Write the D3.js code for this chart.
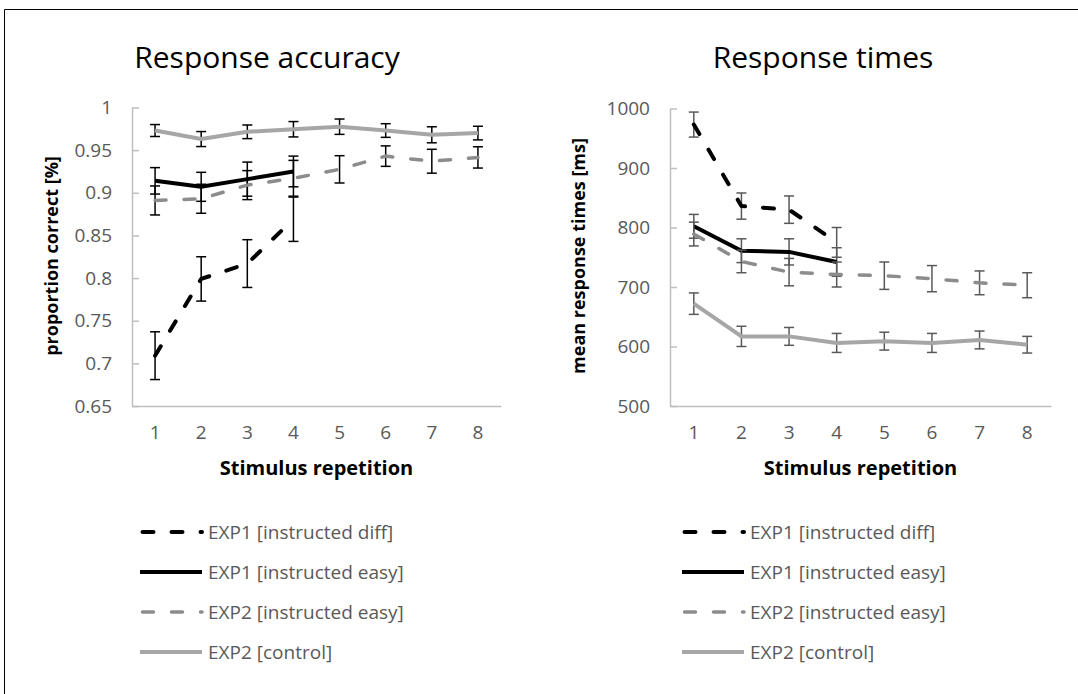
<!DOCTYPE html>
<html lang="en">
<head>
    <meta charset="UTF-8">
    <title>Response accuracy and response times</title>
    <script src="https://d3js.org/d3.v7.min.js"></script>
    <style>
        body {
            margin: 0;
            background: #fff;
            font-family: "Open Sans", sans-serif;
        }
        svg {
            display: block;
        }
    </style>
</head>
<body>
    <script>
        // Data
        const reps = ["1", "2", "3", "4", "5", "6", "7", "8"];
        const seriesNames = ["EXP1 [instructed diff]", "EXP1 [instructed easy]", "EXP2 [instructed easy]", "EXP2 [control]"];

        const accTicks = [0.65, 0.7, 0.75, 0.8, 0.85, 0.9, 0.95, 1];
        const accDiff = [0.709, 0.799, 0.817, 0.869];
        const accDiffErr = [0.028, 0.026, 0.028, 0.026];
        const accEasy1 = [0.914, 0.907, 0.916, 0.925];
        const accEasy1Err = [0.0155, 0.017, 0.02, 0.018];
        const accEasy2 = [0.891, 0.893, 0.909, 0.917, 0.9275, 0.943, 0.937, 0.9415];
        const accEasy2Err = [0.017, 0.017, 0.017, 0.021, 0.016, 0.012, 0.014, 0.0125];
        const accControl = [0.973, 0.963, 0.9715, 0.9745, 0.9775, 0.973, 0.968, 0.970];
        const accControlErr = [0.007, 0.0088, 0.008, 0.009, 0.009, 0.008, 0.0094, 0.008];

        const rtTicks = [500, 600, 700, 800, 900, 1000];
        const rtDiff = [973, 836, 830, 775];
        const rtDiffErr = [21, 22, 23, 25];
        const rtEasy1 = [802, 761, 759, 742];
        const rtEasy1Err = [20, 20, 22, 24];
        const rtEasy2 = [789, 743, 725, 721, 719, 714, 707, 703];
        const rtEasy2Err = [20, 19, 23, 21, 23, 22, 20, 21];
        const rtControl = [672, 617, 617, 606, 609, 606, 611, 603];
        const rtControlErr = [18, 17, 15, 16, 15, 16, 15, 14];

        // Line styles per series (same order as seriesNames)
        const styles = [
            { color: "#000000", width: 4, dash: "11,18" },
            { color: "#000000", width: 4, dash: null },
            { color: "#8c8c8c", width: 3.5, dash: "11,18" },
            { color: "#a6a6a6", width: 4, dash: null }
        ];

        const width = 1078, height = 694;

        const svg = d3.select("body")
            .append("svg")
            .attr("width", width)
            .attr("height", height);

        // outer frame (only top and left edges visible)
        svg.append("line").attr("x1", 4.5).attr("x2", width).attr("y1", 9.5).attr("y2", 9.5)
            .attr("stroke", "#000").attr("stroke-width", 1);
        svg.append("line").attr("x1", 4.5).attr("x2", 4.5).attr("y1", 9.5).attr("y2", height)
            .attr("stroke", "#000").attr("stroke-width", 1);

        function drawPanel(opt) {
            const g = svg.append("g");

            const x = d3.scaleBand().domain(reps).range([opt.left, opt.right]);
            const y = d3.scaleLinear().domain(opt.domain).range([406, opt.top]);
            const cx = d => x(d) + x.bandwidth() / 2;

            // axes
            const yAxis = g.append("g")
                .attr("transform", `translate(${opt.left},0)`)
                .call(d3.axisLeft(y).tickValues(opt.ticks).tickFormat(opt.format)
                    .tickSizeInner(-7).tickSizeOuter(0).tickPadding(20));
            const xAxis = g.append("g")
                .attr("transform", "translate(0,406)")
                .call(d3.axisBottom(x).tickSize(0).tickPadding(20));

            [yAxis, xAxis].forEach(a => {
                a.select(".domain").attr("stroke", "#bfbfbf").attr("stroke-width", 1.5);
                a.selectAll(".tick line").attr("stroke", "#bfbfbf").attr("stroke-width", 1.5);
                a.selectAll(".tick text")
                    .attr("fill", "#595959")
                    .style("font-family", "'Open Sans', sans-serif")
                    .style("font-size", "19px");
            });

            // series: line + error bars
            opt.series.forEach((s, i) => {
                const st = styles[i];
                const pts = s.values.map((v, j) => ({ rep: reps[j], v: v, e: s.err[j] }));

                const bars = g.append("g").selectAll("g")
                    .data(pts)
                    .enter()
                    .append("g")
                    .attr("stroke", opt.errColor)
                    .attr("stroke-width", 1.5);
                bars.append("line")
                    .attr("x1", d => cx(d.rep)).attr("x2", d => cx(d.rep))
                    .attr("y1", d => y(d.v - d.e)).attr("y2", d => y(d.v + d.e));
                bars.append("line")
                    .attr("x1", d => cx(d.rep) - 5).attr("x2", d => cx(d.rep) + 5)
                    .attr("y1", d => y(d.v - d.e)).attr("y2", d => y(d.v - d.e));
                bars.append("line")
                    .attr("x1", d => cx(d.rep) - 5).attr("x2", d => cx(d.rep) + 5)
                    .attr("y1", d => y(d.v + d.e)).attr("y2", d => y(d.v + d.e));

                g.append("path")
                    .datum(pts)
                    .attr("fill", "none")
                    .attr("stroke", st.color)
                    .attr("stroke-width", st.width)
                    .attr("stroke-dasharray", st.dash)
                    .attr("stroke-linecap", st.dash ? "round" : "butt")
                    .attr("stroke-linejoin", "round")
                    .attr("d", d3.line().x(d => cx(d.rep)).y(d => y(d.v)));
            });

            // titles
            g.append("text")
                .attr("x", opt.titleX).attr("y", 68)
                .attr("text-anchor", "middle")
                .style("font-size", "30px")
                .attr("fill", "#000")
                .text(opt.title);

            g.append("text")
                .attr("transform", `translate(${opt.yTitleX},256) rotate(-90)`)
                .attr("text-anchor", "middle")
                .attr("dominant-baseline", "central")
                .style("font-size", "18px")
                .style("font-weight", "bold")
                .text(opt.yTitle);

            g.append("text")
                .attr("x", (opt.left + opt.right) / 2).attr("y", 475)
                .attr("text-anchor", "middle")
                .style("font-size", "20px")
                .style("font-weight", "bold")
                .text("Stimulus repetition");

            // legend
            const leg = g.append("g").selectAll("g")
                .data(seriesNames)
                .enter()
                .append("g")
                .attr("transform", (d, i) => `translate(${opt.legendX},${532 + i * 40})`);
            leg.append("line")
                .attr("x1", (d, i) => styles[i].dash ? 2.5 : 0)
                .attr("x2", 62)
                .attr("stroke", (d, i) => styles[i].color)
                .attr("stroke-width", (d, i) => styles[i].width)
                .attr("stroke-dasharray", (d, i) => styles[i].dash)
                .attr("stroke-linecap", (d, i) => styles[i].dash ? "round" : "butt");
            leg.append("text")
                .attr("x", 68)
                .attr("dominant-baseline", "central")
                .attr("fill", "#595959")
                .style("font-size", "19px")
                .text(d => d);
        }

        drawPanel({
            left: 132, right: 501, top: 107.5,
            domain: [0.65, 1], ticks: accTicks,
            format: d => String(+d.toFixed(2)),
            series: [
                { values: accDiff, err: accDiffErr },
                { values: accEasy1, err: accEasy1Err },
                { values: accEasy2, err: accEasy2Err },
                { values: accControl, err: accControlErr }
            ],
            errColor: "#000",
            title: "Response accuracy", titleX: 267,
            yTitle: "proportion correct [%]", yTitleX: 51,
            legendX: 140
        });

        drawPanel({
            left: 670, right: 1051, top: 108.5,
            domain: [500, 1000], ticks: rtTicks,
            format: d3.format("d"),
            series: [
                { values: rtDiff, err: rtDiffErr },
                { values: rtEasy1, err: rtEasy1Err },
                { values: rtEasy2, err: rtEasy2Err },
                { values: rtControl, err: rtControlErr }
            ],
            errColor: "#595959",
            title: "Response times", titleX: 823,
            yTitle: "mean response times [ms]", yTitleX: 578,
            legendX: 682
        });
    </script>
</body>
</html>
